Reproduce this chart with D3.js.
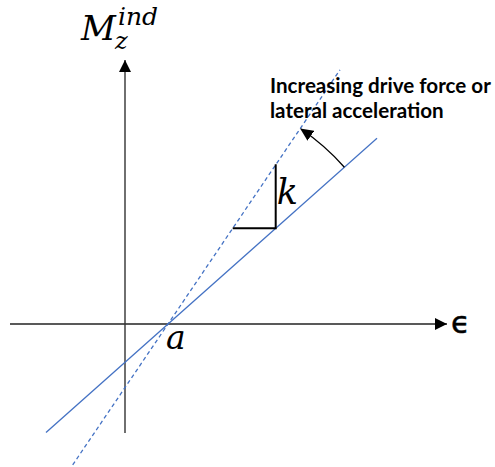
<!DOCTYPE html>
<html>
<head>
<meta charset="utf-8">
<script src="https://cdn.jsdelivr.net/npm/d3@7"></script>
<style>
  body { margin: 0; background: #fff; }
  .math { font-family: "DejaVu Serif", serif; font-style: italic; fill: #000; }
  .note { font-family: Lato, "Open Sans", sans-serif; font-weight: bold; fill: #000; }
</style>
</head>
<body>
<div id="chart"></div>
<script>
const width = 495;
const height = 467;

// axis extents (epsilon, Mz) in diagram units
const epsRange = [-11.5, 32.2];
const mzRange = [-10.9, 26.4];

// the two moment lines: both through epsilon = a
const aValue = 4.3;
const lineNames = ['base', 'increased'];
const lineSlopes = [0.889, 1.478];
const lineFrom = [-7.9, -5.23];
const lineTo = [25.2, 21.5];

// slope triangle marked k
const kAt = 15.07;
const kRun = 4.3;
const kRise = 6.4;

// rotation arrow
const arcRadius = 23.6;

const noteLines = ['Increasing drive force or', 'lateral acceleration'];

const x = d3.scaleLinear().domain(epsRange).range([10, 447]);
const y = d3.scaleLinear().domain(mzRange).range([433, 60]);

const svg = d3.select('#chart').append('svg')
    .attr('width', width)
    .attr('height', height);

const defs = svg.append('defs');
defs.append('marker')
    .attr('id', 'axisHead')
    .attr('viewBox', '0 0 12 12')
    .attr('refX', 12).attr('refY', 6)
    .attr('markerWidth', 12).attr('markerHeight', 12)
    .attr('markerUnits', 'userSpaceOnUse')
    .attr('orient', 'auto')
    .append('path').attr('d', 'M0,0L12,6L0,12Z').attr('fill', '#000');
defs.append('marker')
    .attr('id', 'arcHead')
    .attr('viewBox', '0 0 12 11')
    .attr('refX', 11).attr('refY', 5.5)
    .attr('markerWidth', 13).attr('markerHeight', 12)
    .attr('markerUnits', 'userSpaceOnUse')
    .attr('orient', 'auto')
    .append('path').attr('d', 'M0,0L12,5.5L0,11Z').attr('fill', '#000');

// axes
svg.append('line')
    .attr('x1', x(epsRange[0])).attr('x2', x(epsRange[1]))
    .attr('y1', y(0)).attr('y2', y(0))
    .attr('stroke', '#222').attr('stroke-width', 1.4)
    .attr('marker-end', 'url(#axisHead)');
svg.append('line')
    .attr('x1', x(0)).attr('x2', x(0))
    .attr('y1', y(mzRange[0])).attr('y2', y(mzRange[1]))
    .attr('stroke', '#333').attr('stroke-width', 1.4)
    .attr('marker-end', 'url(#axisHead)');

// moment lines
const lines = lineNames.map((n, i) => ({
    name: n,
    slope: lineSlopes[i],
    pts: [lineFrom[i], lineTo[i]].map(e => [e, lineSlopes[i] * (e - aValue)])
}));
const lineGen = d3.line().x(d => x(d[0])).y(d => y(d[1]));
svg.selectAll('path.mline')
    .data(lines)
    .join('path')
    .attr('class', 'mline')
    .attr('d', d => lineGen(d.pts))
    .attr('fill', 'none')
    .attr('stroke', '#4472c4')
    .attr('stroke-width', 1.3)
    .attr('stroke-dasharray', d => d.name === 'increased' ? '4,3' : null);

// k triangle
const kBase = lineSlopes[0] * (kAt - aValue);
svg.append('path')
    .attr('d', lineGen([[kAt - kRun, kBase], [kAt, kBase], [kAt, kBase + kRise]]))
    .attr('fill', 'none')
    .attr('stroke', '#000')
    .attr('stroke-width', 2);

// rotation arc, centred on a
const cx = x(aValue), cy = y(0);
const rPx = x(arcRadius) - x(0);
const t1 = Math.atan(lineSlopes[0]);
const t2 = Math.atan(lineSlopes[1]) - 0.004;
svg.append('path')
    .attr('d', `M${cx + rPx * Math.cos(t1)},${cy - rPx * Math.sin(t1)}` +
        `A${rPx},${rPx} 0 0 0 ${cx + rPx * Math.cos(t2)},${cy - rPx * Math.sin(t2)}`)
    .attr('fill', 'none')
    .attr('stroke', '#000')
    .attr('stroke-width', 1.3)
    .attr('marker-end', 'url(#arcHead)');

// labels
svg.append('text').attr('class', 'math')
    .attr('x', 81).attr('y', 40).attr('font-size', 34).text('M');
svg.append('text').attr('class', 'math')
    .attr('x', 115).attr('y', 49).attr('font-size', 24).text('z');
svg.append('text').attr('class', 'math')
    .attr('x', 118).attr('y', 25).attr('font-size', 25).text('ind');

svg.append('text').attr('class', 'math')
    .attr('x', x(aValue) - 2).attr('y', y(0) + 25)
    .attr('font-size', 33).text('a');
svg.append('text').attr('class', 'math')
    .attr('x', x(kAt) + 1).attr('y', y(kBase + kRise) + 40)
    .attr('font-size', 35).text('k');

svg.append('text')
    .attr('x', x(epsRange[1]) + 4).attr('y', y(0) + 9)
    .attr('font-family', '"DejaVu Sans", sans-serif')
    .attr('font-size', 31)
    .attr('stroke', '#000').attr('stroke-width', 0.5)
    .text('ϵ');

svg.selectAll('text.note')
    .data(noteLines)
    .join('text')
    .attr('class', 'note')
    .attr('x', 270)
    .attr('y', (d, i) => 92.7 + i * 25)
    .attr('font-size', 20.6)
    .text(d => d);
</script>
</body>
</html>
